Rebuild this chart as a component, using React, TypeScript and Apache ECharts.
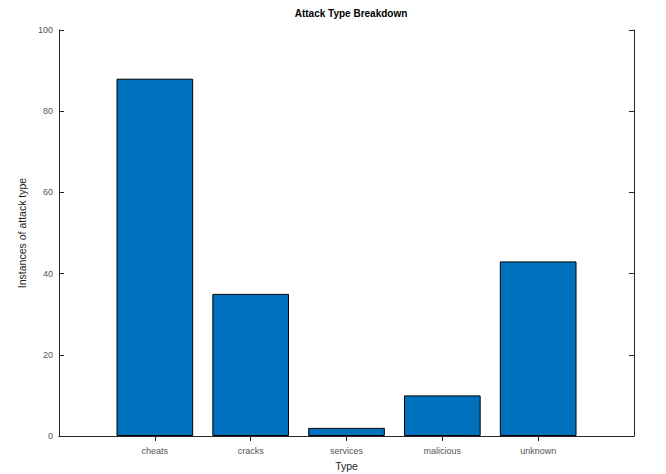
import React, { useEffect, useRef } from "react";
import * as echarts from "echarts";

const categories = ["", "cheats", "cracks", "services", "malicious", "unknown", ""];
const values = [null, 88, 35, 2, 10, 43, null];
const yTicks = { min: 0, max: 100, interval: 20 };

const FONT = "'Liberation Sans', Arial, Helvetica, sans-serif";

export default function App() {
  const ref = useRef<HTMLDivElement>(null);
  useEffect(() => {
    const chart = echarts.init(ref.current!, null, { renderer: "svg" });
    const tickShow = (i: number) => i > 0 && i < categories.length - 1;
    chart.setOption({
      animation: false,
      backgroundColor: "#ffffff",
      title: {
        text: "Attack Type Breakdown",
        left: 346,
        top: 3,
        textAlign: "center",
        textStyle: { fontFamily: FONT, fontSize: 10, fontWeight: "bold", color: "#000" },
      },
      grid: { left: 59, top: 30, right: 32, bottom: 38, outerBoundsMode: "none", containLabel: false },
      xAxis: [
        {
          type: "category",
          data: categories,
          boundaryGap: false,
          name: "Type",
          nameLocation: "middle",
          nameGap: 24,
          nameTextStyle: { fontFamily: FONT, fontSize: 10.5, color: "#262626" },
          axisLine: { lineStyle: { color: "#8c8c8c", width: 1 } },
          axisTick: { inside: true, length: 5, interval: (i: number) => tickShow(i), lineStyle: { color: "#262626" } },
          axisLabel: { interval: 0, margin: 10, fontFamily: FONT, fontSize: 9, color: "#555" },
          splitLine: { show: false },
        },
        {
          type: "category",
          data: categories,
          boundaryGap: false,
          position: "top",
          axisLine: { lineStyle: { color: "#262626", width: 1 } },
          axisTick: { inside: true, length: 5, interval: (i: number) => tickShow(i), lineStyle: { color: "#262626" } },
          axisLabel: { show: false },
          splitLine: { show: false },
        },
      ],
      yAxis: [
        {
          type: "value",
          min: yTicks.min,
          max: yTicks.max,
          interval: yTicks.interval,
          name: "Instances of attack type",
          nameLocation: "middle",
          nameGap: 27,
          nameTextStyle: { fontFamily: FONT, fontSize: 10.5, color: "#262626" },
          axisLine: { show: true, lineStyle: { color: "#262626", width: 1 } },
          axisTick: { show: true, inside: true, length: 5, lineStyle: { color: "#262626" } },
          axisLabel: { margin: 6, fontFamily: FONT, fontSize: 9, color: "#555" },
          splitLine: { show: false },
        },
        {
          type: "value",
          min: yTicks.min,
          max: yTicks.max,
          interval: yTicks.interval,
          position: "right",
          axisLine: { show: true, lineStyle: { color: "#262626", width: 1 } },
          axisTick: { show: true, inside: true, length: 5, lineStyle: { color: "#262626" } },
          axisLabel: { show: false },
          splitLine: { show: false },
        },
      ],
      series: [
        {
          type: "bar",
          data: values,
          barWidth: "80%",
          itemStyle: { color: "#0072BD", borderColor: "#000", borderWidth: 1 },
        },
      ],
    });
    return () => chart.dispose();
  }, []);
  return <div ref={ref} style={{ width: 666, height: 474, position: "absolute", left: 0, top: 0 }} />;
}
